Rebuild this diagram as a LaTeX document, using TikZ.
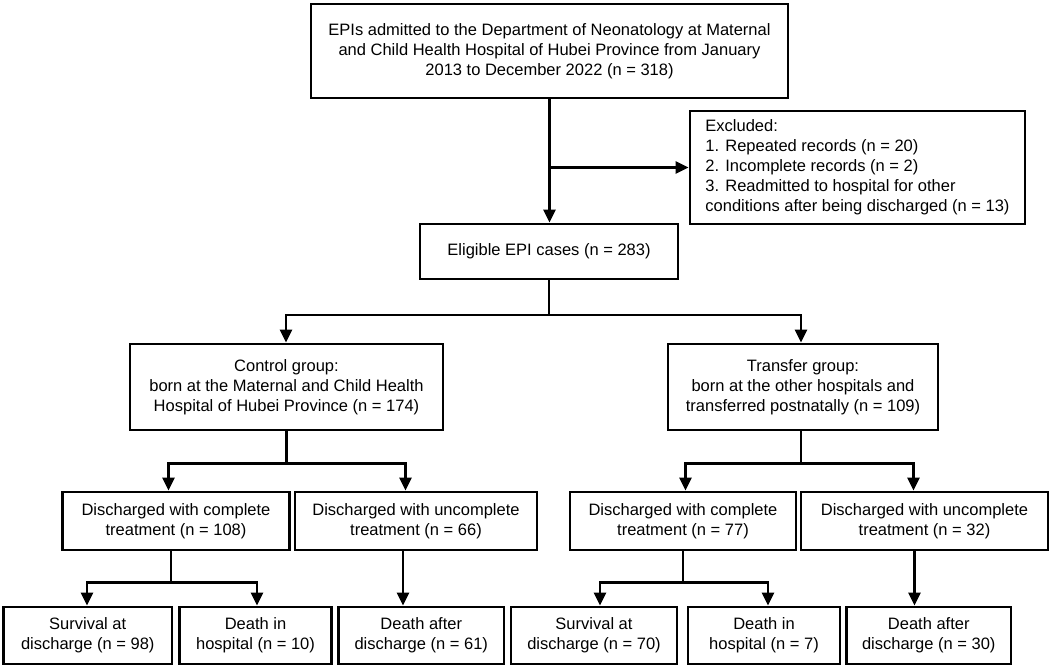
\documentclass[tikz,border=0pt]{standalone}
\usepackage{fontspec}
\setmainfont{Liberation Sans}
\usetikzlibrary{arrows.meta}
\begin{document}
\begin{tikzpicture}[x=1pt,y=-1pt,
  box/.style={draw, line width=2.8pt, align=center, inner sep=0pt,
    font=\fontsize{16.5}{20}\selectfont},
  conn/.style={line width=2.3pt},
  arr/.style={conn, -{Triangle[length=13pt,width=12pt]}}]
\useasboundingbox (0,0) rectangle (1053,667);
% nodes
\node[box, minimum width=477, minimum height=94] (top) at (549.5,51)
  {EPIs admitted to the Department of Neonatology at Maternal\\and Child Health Hospital of Hubei Province from January\\2013 to December 2022 (n = 318)};
\node[box, align=left, minimum width=335, minimum height=113] (excl) at (857.5,167.5)
  {Excluded:\\1. Repeated records (n = 20)\\2. Incomplete records (n = 2)\\3. Readmitted to hospital for other\\conditions after being discharged (n = 13)};
\node[box, minimum width=258, minimum height=55] (elig) at (549,251.5)
  {Eligible EPI cases (n = 283)};
\node[box, minimum width=313, minimum height=86] (ctrl) at (286.5,387)
  {Control group:\\born at the Maternal and Child Health\\Hospital of Hubei Province (n = 174)};
\node[box, minimum width=270, minimum height=86] (trans) at (803,387)
  {Transfer group:\\born at the other hospitals and\\transferred postnatally (n = 109)};
\node[box, minimum width=227, minimum height=58] (A) at (176,521)
  {Discharged with complete\\treatment (n = 108)};
\node[box, minimum width=242, minimum height=58] (B) at (416,521)
  {Discharged with uncomplete\\treatment (n = 66)};
\node[box, minimum width=226, minimum height=58] (C) at (683,521)
  {Discharged with complete\\treatment (n = 77)};
\node[box, minimum width=247, minimum height=58] (D) at (924.5,521)
  {Discharged with uncomplete\\treatment (n = 32)};
\node[box, minimum width=168.5, minimum height=57] (E) at (87.75,635.5)
  {Survival at\\discharge (n = 98)};
\node[box, minimum width=152, minimum height=57] (F) at (255.5,635.5)
  {Death in\\hospital (n = 10)};
\node[box, minimum width=165.5, minimum height=57] (G) at (421.25,635.5)
  {Death after\\discharge (n = 61)};
\node[box, minimum width=166, minimum height=57] (H) at (594,635.5)
  {Survival at\\discharge (n = 70)};
\node[box, minimum width=152, minimum height=57] (I) at (764,635.5)
  {Death in\\hospital (n = 7)};
\node[box, minimum width=164.5, minimum height=57] (J) at (928.75,635.5)
  {Death after\\discharge (n = 30)};
% connectors
\draw[arr] (top.south) -- (top.south |- elig.north);
\draw[arr] (top.south |- excl.west) -- (excl.west);
\draw[conn] (elig.south) -- (elig.south |- 0,315) coordinate (s1);
\draw[arr] (s1) -| ([xshift=-0.5pt]ctrl.north);
\draw[arr] (s1) -| ([xshift=-2pt]trans.north);
\draw[conn] (ctrl.south) -- (ctrl.south |- 0,463.5) coordinate (s2);
\draw[arr] (s2) -| ([xshift=-7.5pt]A.north);
\draw[arr] (s2) -| ([xshift=-10.5pt]B.north);
\draw[conn] ([xshift=-2pt]trans.south) -- ([xshift=-2pt]trans.south |- 0,463.5) coordinate (s3);
\draw[arr] (s3) -| ([xshift=2.5pt]C.north);
\draw[arr] (s3) -| ([xshift=-11pt]D.north);
\draw[conn] ([xshift=-5pt]A.south) -- ([xshift=-5pt]A.south |- 0,582.5) coordinate (s4);
\draw[arr] (s4) -| ([xshift=-0.75pt]E.north);
\draw[arr] (s4) -| ([xshift=1.5pt]F.north);
\draw[arr] ([xshift=-13pt]B.south) -- ([xshift=-13pt]B.south |- G.north);
\draw[conn] (C.south) -- (C.south |- 0,582.5) coordinate (s5);
\draw[arr] (s5) -| ([xshift=6pt]H.north);
\draw[arr] (s5) -| ([xshift=4pt]I.north);
\draw[arr] ([xshift=-10pt]D.south) -- ([xshift=-10pt]D.south |- J.north);
\end{tikzpicture}
\end{document}
